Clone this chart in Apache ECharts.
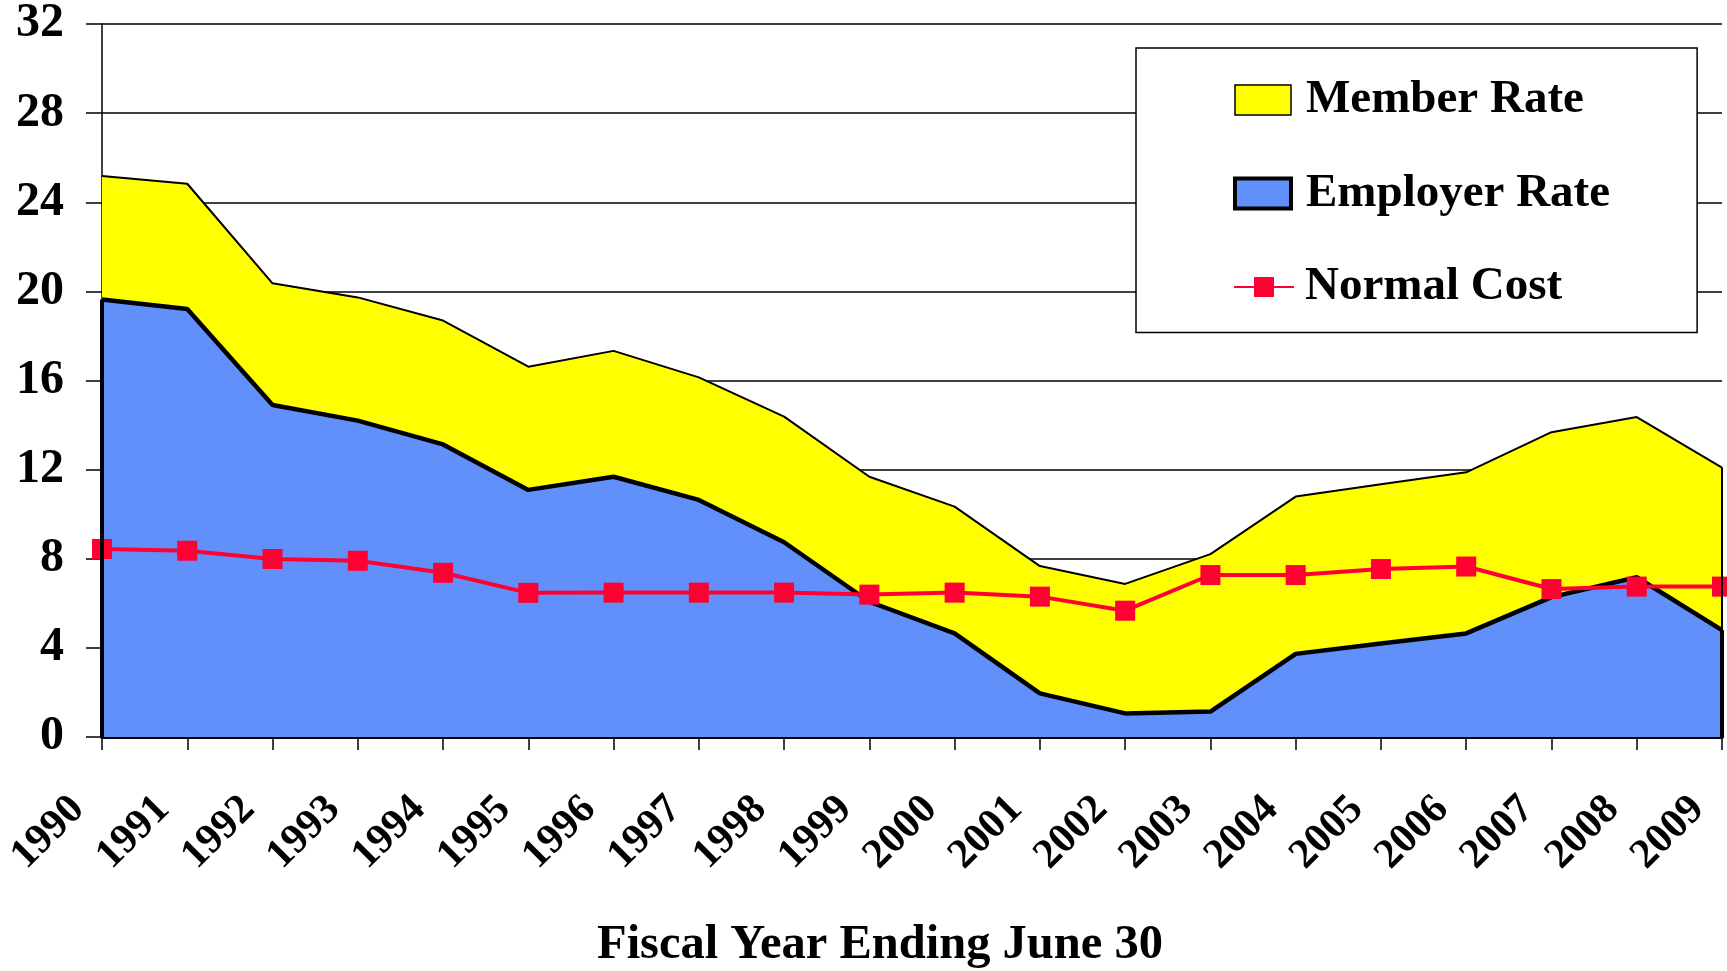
<!DOCTYPE html>
<html>
<head>
<meta charset="utf-8">
<script src="https://cdn.jsdelivr.net/npm/echarts@6/dist/echarts.min.js"></script>
<style>
html,body{margin:0;padding:0;background:#fff;}
#chart{width:1727px;height:971px;}
</style>
</head>
<body>
<div id="chart"></div>
<script>
const years = ['1990','1991','1992','1993','1994','1995','1996','1997','1998','1999','2000','2001','2002','2003','2004','2005','2006','2007','2008','2009'];
const employerRate = [19.64,19.21,14.9,14.2,13.13,11.09,11.68,10.64,8.74,6.07,4.65,1.96,1.06,1.14,3.73,4.2,4.65,6.28,7.17,4.8];
const memberRate = [5.54,5.62,5.46,5.53,5.56,5.53,5.65,5.5,5.64,5.61,5.69,5.71,5.81,7.07,7.06,7.14,7.23,7.4,7.19,7.29];
const normalCost = [8.44,8.36,7.99,7.91,7.37,6.47,6.48,6.48,6.48,6.39,6.48,6.30,5.67,7.27,7.27,7.54,7.65,6.64,6.75,6.75];
const yTicks = {min: 0, max: 32, interval: 4};
const xTitle = 'Fiscal Year Ending June 30';

const FONT = "'Liberation Serif', 'Times New Roman', serif";
const last = years.length - 1;
const totalLast = employerRate[last] + memberRate[last];

const chart = echarts.init(document.getElementById('chart'), null, {renderer: 'canvas'});
chart.setOption({
  animation: false,
  backgroundColor: '#ffffff',
  title: {
    text: xTitle,
    left: 597,
    top: 921,
    padding: 0,
    textStyle: {fontFamily: FONT, fontWeight: 'bold', fontSize: 48.5, color: '#000', lineHeight: 48}
  },
  grid: {left: 102, right: 5, top: 24, bottom: 234, containLabel: false},
  legend: [{
    orient: 'vertical',
    left: 1136,
    top: 48,
    padding: [28.5, 87, 115.5, 97],
    itemGap: 46.5,
    itemWidth: 56,
    itemHeight: 30,
    backgroundColor: '#ffffff',
    borderColor: '#000000',
    borderWidth: 1.5,
    borderRadius: 0,
    selectedMode: false,
    textStyle: {fontFamily: FONT, fontWeight: 'bold', fontSize: 47, color: '#000', lineHeight: 47, padding: [0, 0, 0, 10]},
    data: [
      {name: 'Member Rate', icon: 'rect', itemStyle: {color: '#ffff00', borderColor: '#000', borderWidth: 1.5}},
      {name: 'Employer Rate', icon: 'rect', itemStyle: {color: '#6290fa', borderColor: '#000', borderWidth: 4}}
    ]
  }, {
    orient: 'vertical',
    left: 1233,
    top: 263.5,
    padding: 0,
    itemWidth: 60,
    itemHeight: 25,
    selectedMode: false,
    textStyle: {fontFamily: FONT, fontWeight: 'bold', fontSize: 47, color: '#000', lineHeight: 47, padding: [0, 0, 0, 6]},
    data: ['Normal Cost']
  }],
  xAxis: {
    type: 'category',
    data: years,
    boundaryGap: false,
    axisLine: {show: true, lineStyle: {color: '#000', width: 4}},
    axisTick: {show: true, length: 13, lineStyle: {color: '#000', width: 1.5}},
    axisLabel: {
      rotate: 45,
      margin: 42,
      interval: 0,
      padding: [0, 34, 0, 0],
      fontFamily: FONT, fontWeight: 'bold', fontSize: 42, color: '#000'
    },
    splitLine: {show: false}
  },
  yAxis: {
    type: 'value',
    min: yTicks.min, max: yTicks.max, interval: yTicks.interval,
    axisLine: {show: true, lineStyle: {color: '#000', width: 1.5}},
    axisTick: {show: true, inside: false, length: 16, lineStyle: {color: '#000', width: 1.5}},
    axisLabel: {margin: 38, fontFamily: FONT, fontWeight: 'bold', fontSize: 48, color: '#000'},
    splitLine: {show: true, lineStyle: {color: '#000', width: 1.5}}
  },
  series: [{
    name: 'Employer Rate',
    type: 'line',
    stack: 'rate',
    data: employerRate,
    z: 3,
    symbol: 'none',
    color: '#6290fa',
    lineStyle: {color: '#000', width: 4.5},
    areaStyle: {color: '#6290fa', opacity: 1},
    markLine: {
      silent: true, symbol: 'none', label: {show: false},
      lineStyle: {color: '#000', width: 4, type: 'solid'},
      data: [
        [{coord: [years[0], 0]}, {coord: [years[0], employerRate[0]]}],
        [{coord: [years[last], 0]}, {coord: [years[last], employerRate[last]]}]
      ]
    }
  }, {
    name: 'Member Rate',
    type: 'line',
    stack: 'rate',
    data: memberRate,
    z: 2,
    symbol: 'none',
    color: '#ffff00',
    lineStyle: {color: '#000', width: 2},
    areaStyle: {color: '#ffff00', opacity: 1},
    markLine: {
      silent: true, symbol: 'none', label: {show: false},
      lineStyle: {color: '#000', width: 2, type: 'solid'},
      data: [
        [{coord: [years[last], employerRate[last]]}, {coord: [years[last], totalLast]}]
      ]
    }
  }, {
    name: 'Normal Cost',
    type: 'line',
    data: normalCost,
    z: 4,
    symbol: 'rect',
    symbolSize: 20,
    color: '#ff0033',
    lineStyle: {color: '#ff0033', width: 4},
    itemStyle: {color: '#ff0033'}
  }]
});
</script>
</body>
</html>
